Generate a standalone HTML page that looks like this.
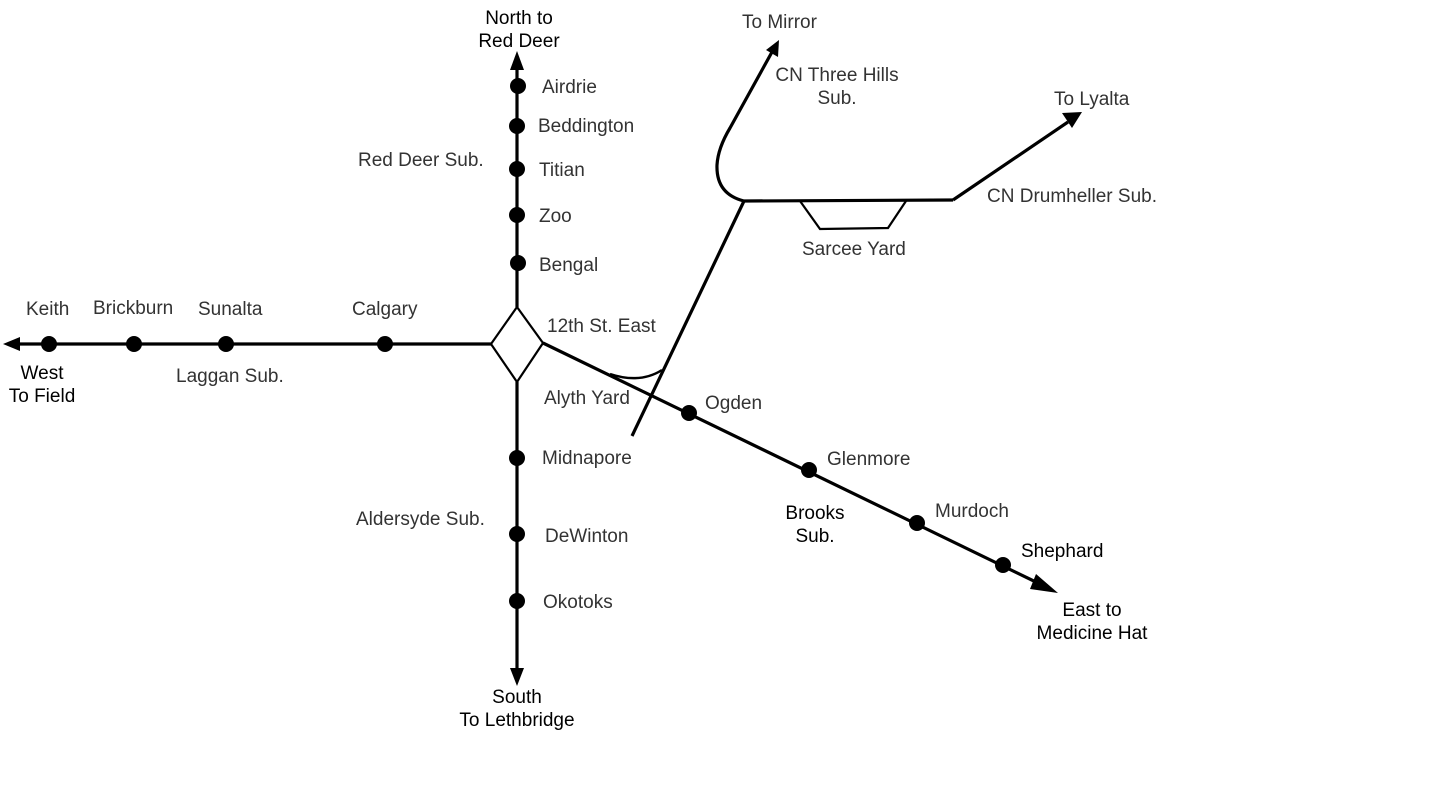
<!DOCTYPE html>
<html><head><style>
body{margin:0;background:#fff;}
svg{display:block}
text{font-family:"Liberation Sans",sans-serif;font-size:19px;fill:#333;}
.k{fill:#000;}
</style></head><body>
<svg width="1431" height="791" viewBox="0 0 1431 791" xmlns="http://www.w3.org/2000/svg">
<g stroke="#000" stroke-width="3.2" fill="none">
<line x1="517" y1="307" x2="517" y2="70"/>
<path d="M510,70 L517,51 L524,70 z" fill="#000" stroke="none"/>
<line x1="517" y1="382" x2="517" y2="668"/>
<path d="M510,668 L517,686 L524,668 z" fill="#000" stroke="none"/>
<line x1="491" y1="344" x2="20" y2="344"/>
<path d="M20,337 L3,344 L20,351 z" fill="#000" stroke="none"/>
<path d="M517,307 L543,343 L517,382 L491,344 Z" stroke-width="2.2"/>
<line x1="543" y1="343" x2="1040" y2="584"/>
<path d="M1036,574 L1058,593 L1030,589 z" fill="#000" stroke="none"/>
<line x1="632" y1="436" x2="744" y2="201"/>
<path d="M610,374 Q640,384 662,370" stroke-width="2.5"/>
<line x1="744" y1="201" x2="953" y2="200"/>
<line x1="953" y1="200" x2="1068" y2="122"/>
<path d="M1062,113 L1082,112 L1072,128 z" fill="#000" stroke="none"/>
<path d="M744,201 Q716,194 717,165 Q718,148 730,128 L772,52"/>
<path d="M766,50 L779,40 L778,57 z" fill="#000" stroke="none"/>
<path d="M800,201 L820,229 L888,228 L906,201" stroke-width="2.2"/>
</g>
<g fill="#000">
<circle cx="518" cy="86" r="8"/><circle cx="517" cy="126" r="8"/><circle cx="517" cy="169" r="8"/>
<circle cx="517" cy="215" r="8"/><circle cx="518" cy="263" r="8"/>
<circle cx="49" cy="344" r="8"/><circle cx="134" cy="344" r="8"/><circle cx="226" cy="344" r="8"/><circle cx="385" cy="344" r="8"/>
<circle cx="517" cy="458" r="8"/><circle cx="517" cy="534" r="8"/><circle cx="517" cy="601" r="8"/>
<circle cx="689" cy="413" r="8"/><circle cx="809" cy="470" r="8"/><circle cx="917" cy="523" r="8"/><circle cx="1003" cy="565" r="8"/>
</g>
<text x="519" y="24" text-anchor="middle" class="k">North to</text>
<text x="519" y="47" text-anchor="middle" class="k">Red Deer</text>
<text x="542" y="93">Airdrie</text>
<text x="538" y="132">Beddington</text>
<text x="358" y="166">Red Deer Sub.</text>
<text x="539" y="176">Titian</text>
<text x="539" y="222">Zoo</text>
<text x="539" y="271">Bengal</text>
<text x="547" y="332">12th St. East</text>
<text x="544" y="404">Alyth Yard</text>
<text x="542" y="464">Midnapore</text>
<text x="356" y="525">Aldersyde Sub.</text>
<text x="545" y="542">DeWinton</text>
<text x="543" y="608">Okotoks</text>
<text x="517" y="703" text-anchor="middle" class="k">South</text>
<text x="517" y="726" text-anchor="middle" class="k">To Lethbridge</text>
<text x="26" y="315">Keith</text>
<text x="93" y="314">Brickburn</text>
<text x="198" y="315">Sunalta</text>
<text x="352" y="315">Calgary</text>
<text x="42" y="379" text-anchor="middle" class="k">West</text>
<text x="42" y="402" text-anchor="middle" class="k">To Field</text>
<text x="176" y="382">Laggan Sub.</text>
<text x="705" y="409">Ogden</text>
<text x="827" y="465">Glenmore</text>
<text x="815" y="519" text-anchor="middle" class="k">Brooks</text>
<text x="815" y="542" text-anchor="middle" class="k">Sub.</text>
<text x="935" y="517">Murdoch</text>
<text x="1021" y="557" class="k">Shephard</text>
<text x="1092" y="616" text-anchor="middle" class="k">East to</text>
<text x="1092" y="639" text-anchor="middle" class="k">Medicine Hat</text>
<text x="742" y="28">To Mirror</text>
<text x="837" y="81" text-anchor="middle">CN Three Hills</text>
<text x="837" y="104" text-anchor="middle">Sub.</text>
<text x="1054" y="105">To Lyalta</text>
<text x="987" y="202">CN Drumheller Sub.</text>
<text x="802" y="255">Sarcee Yard</text>
</svg>
</body></html>
